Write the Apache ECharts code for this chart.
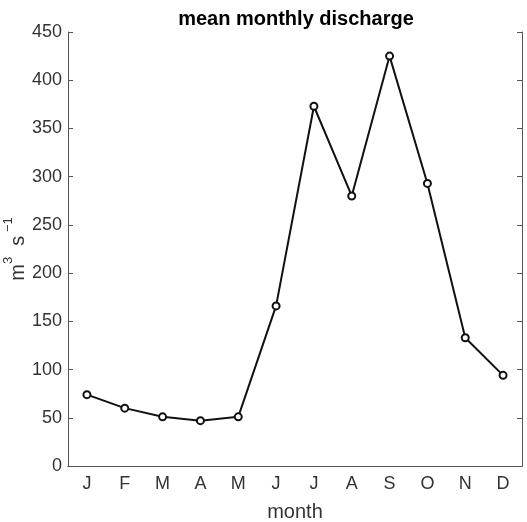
<!DOCTYPE html>
<html>
<head>
<meta charset="utf-8">
<script src="https://cdn.jsdelivr.net/npm/echarts@6/dist/echarts.min.js"></script>
<style>
  html, body { margin: 0; padding: 0; background: #fff; }
  #chart { width: 527px; height: 522px; }
</style>
</head>
<body>
<div id="chart"></div>
<script>
const months = ['J', 'F', 'M', 'A', 'M', 'J', 'J', 'A', 'S', 'O', 'N', 'D']
const discharge = [74, 60, 51, 47, 51, 166, 373, 280, 425, 293, 133, 94]

const axisGray = '#555'
const textGray = '#333'
const font = 'Liberation Sans, Arial, sans-serif'

const chart = echarts.init(document.getElementById('chart'))
chart.setOption({
  animation: false,
  title: {
    text: 'mean monthly discharge',
    left: 291,
    top: 4,
    textAlign: 'center',
    textStyle: { fontSize: 20, fontWeight: 'bold', color: '#000', fontFamily: font },
  },
  grid: { left: 68, right: 5, top: 32, bottom: 56, containLabel: false, outerBoundsMode: 'none' },
  xAxis: [
    {
      type: 'category',
      data: months,
      position: 'bottom',
      name: 'month',
      nameLocation: 'middle',
      nameGap: 36,
      nameMoveOverlap: false,
      nameTextStyle: { fontSize: 20, color: textGray, fontFamily: font },
      axisLine: { lineStyle: { color: axisGray, width: 1 } },
      axisTick: { inside: true, length: 5, alignWithLabel: true, lineStyle: { color: axisGray } },
      axisLabel: { fontSize: 18, color: textGray, margin: 9, fontFamily: font },
    },
    {
      type: 'category',
      data: months,
      position: 'top',
      axisLine: { lineStyle: { color: axisGray, width: 1 } },
      axisTick: { inside: true, length: 5, alignWithLabel: true, lineStyle: { color: axisGray } },
      axisLabel: { show: false },
    },
  ],
  yAxis: [
    {
      type: 'value',
      min: 0,
      max: 450,
      interval: 50,
      name: '{n|m}{s|3}{n|  s}{s| \u22121}',
      nameLocation: 'middle',
      nameGap: 40,
      nameMoveOverlap: false,
      nameTextStyle: {
        color: textGray,
        fontFamily: font,
        rich: {
          n: { fontSize: 20, lineHeight: 26, color: textGray, fontFamily: font, verticalAlign: 'bottom' },
          s: { fontSize: 13, lineHeight: 26, color: textGray, fontFamily: font, verticalAlign: 'top' },
        },
      },
      axisLine: { show: true, lineStyle: { color: axisGray, width: 1 } },
      axisTick: { show: true, inside: true, length: 5, lineStyle: { color: axisGray } },
      axisLabel: { fontSize: 18, color: textGray, margin: 6, fontFamily: font },
      splitLine: { show: false },
    },
    {
      type: 'value',
      min: 0,
      max: 450,
      interval: 50,
      position: 'right',
      axisLine: { show: true, lineStyle: { color: axisGray, width: 1 } },
      axisTick: { show: true, inside: true, length: 5, lineStyle: { color: axisGray } },
      axisLabel: { show: false },
      splitLine: { show: false },
    },
  ],
  series: [
    {
      type: 'line',
      data: discharge,
      symbol: 'emptyCircle',
      symbolSize: 7,
      lineStyle: { color: '#111', width: 2 },
      itemStyle: { color: '#111', borderColor: '#111', borderWidth: 1.5 },
    },
  ],
})
</script>
</body>
</html>
